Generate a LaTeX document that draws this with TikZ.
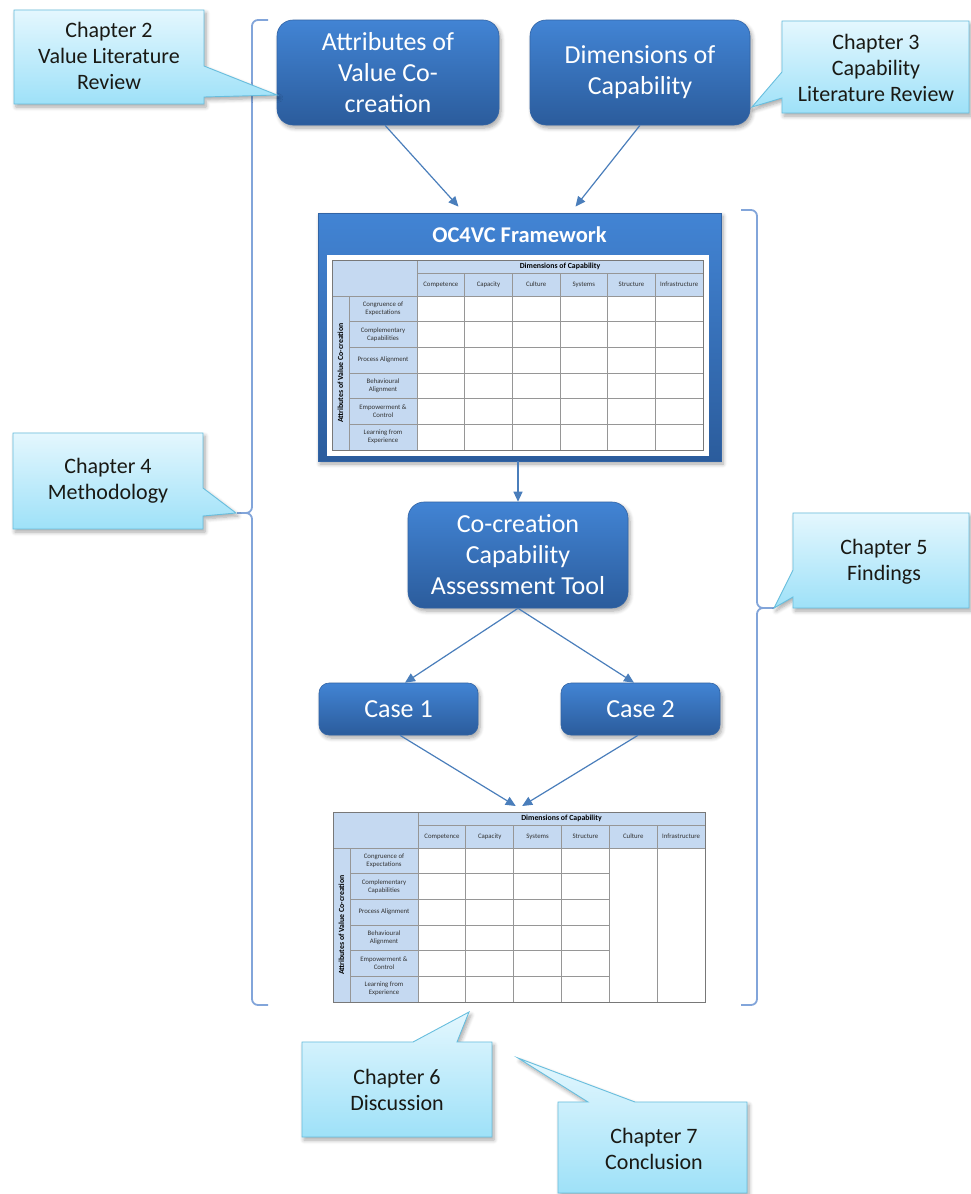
\documentclass[tikz,border=0pt]{standalone}
\usepackage{fontspec}
\setmainfont{Carlito}
\usetikzlibrary{arrows.meta,shadows.blur}

\definecolor{bxtop}{RGB}{66,132,212}
\definecolor{bxbot}{RGB}{43,92,156}
\definecolor{bxline}{RGB}{50,100,165}
\definecolor{cotop}{RGB}{228,247,254}
\definecolor{cobot}{RGB}{158,225,248}
\definecolor{coline}{RGB}{104,190,222}
\definecolor{cotext}{RGB}{25,25,20}
\definecolor{flowblue}{RGB}{74,126,187}
\definecolor{brk}{RGB}{130,165,218}
\definecolor{hdrfill}{RGB}{197,217,241}
\definecolor{gridgray}{RGB}{150,150,150}
\definecolor{tabtext}{RGB}{50,50,50}

\tikzset{
  softshadow/.style={blur shadow={shadow xshift=2pt, shadow yshift=-3pt,
      shadow opacity=35, shadow blur steps=6, shadow blur radius=4pt}},
  bluebox/.style={rectangle, rounded corners=16pt, top color=bxtop, bottom color=bxbot,
      draw=bxline, line width=0.6pt, text=white, align=center, inner sep=0pt,
      font=\fontsize{26}{31}\selectfont, softshadow},
  casebox/.style={bluebox, rounded corners=10pt},
  fwbox/.style={rectangle, top color=bxtop, bottom color=bxbot, draw=bxline,
      line width=0.8pt, inner sep=0pt, softshadow},
  calloutshape/.style={top color=cotop, bottom color=cobot, draw=coline,
      line width=0.9pt, softshadow},
  calltext/.style={text=cotext, align=center, inner sep=0pt,
      font=\fontsize{22}{26}\selectfont},
  flow/.style={draw=flowblue, line width=1.2pt, -{Triangle[length=10pt,width=9pt]}},
  bracket/.style={draw=brk, line width=1.8pt, rounded corners=6pt},
  gridline/.style={draw=gridgray, line width=0.7pt},
  gridframe/.style={draw=gridgray!80!black, line width=0.8pt},
  tabcell/.style={text=tabtext, align=center, inner sep=0pt,
      font=\fontsize{6.8}{8}\selectfont},
  tabhead/.style={text=black, align=center, inner sep=0pt,
      font=\bfseries\fontsize{7.8}{8.5}\selectfont},
}

% capability grid: #1 name prefix, #2 total width, #3 columns that carry row lines,
% #4 column headings
\newcommand\cvgrid[4]{%
  \pgfmathsetmacro\gw{#2}%
  \pgfmathsetmacro\cw{(#2-85)/6}%
  \pgfmathsetmacro\rh{154/6}%
  \fill[hdrfill] (0,0) rectangle (\gw,36);
  \fill[hdrfill] (0,36) rectangle (85,190);
  \fill[white] (85,36) rectangle (\gw,190);
  \draw[gridline] (85,13.5) -- (\gw,13.5);
  \draw[gridline] (0,36) -- (\gw,36);
  \draw[gridline] (17,36) -- (17,190);
  \draw[gridline] (85,0) -- (85,190);
  \foreach \k in {1,...,5} \draw[gridline] ({85+\k*\cw},13.5) -- ({85+\k*\cw},190);
  \foreach \j in {1,...,5} \draw[gridline] (17,{36+\j*\rh}) -- ({85+#3*\cw},{36+\j*\rh});
  \draw[gridframe] (0,0) rectangle (\gw,190);
  \node[tabhead] (#1dim) at ({(85+\gw)/2},6.75) {Dimensions of Capability};
  \foreach \t [count=\k] in {#4}
    \node[tabcell] (#1c\k) at ({85+(\k-0.5)*\cw},24.5) {\t};
  \foreach \t [count=\j] in {{Congruence of\\Expectations},{Complementary\\Capabilities},
      {Process Alignment},{Behavioural\\Alignment},{Empowerment \&\\Control},
      {Learning from\\Experience}}
    \node[tabcell] (#1r\j) at (51,{36+(\j-0.5)*\rh}) {\t};
  \node[tabhead, rotate=90] (#1attr) at (8.5,113) {Attributes of Value Co-creation};
}

\begin{document}
\begin{tikzpicture}[x=1pt,y=-1pt]
\useasboundingbox (0,0) rectangle (970,1194);

% brackets grouping the chapters
\draw[bracket] (268,20) -- (252,20) -- (252,513) -- (237,513);
\draw[bracket] (237,513) -- (252,513) -- (252,1005) -- (268,1005);
\draw[bracket] (741,210) -- (757,210) -- (757,608) -- (774,608);
\draw[bracket] (774,608) -- (757,608) -- (757,1005) -- (741,1005);

% top inputs
\node[bluebox, minimum width=222pt, minimum height=105pt] (attr) at (388,72.5)
  {Attributes of\\Value Co-\\creation};
\node[bluebox, minimum width=220pt, minimum height=105pt] (dim) at (640,72.5)
  {Dimensions of\\Capability};

% framework panel
\node[fwbox, minimum width=403pt, minimum height=248pt] (fw) at (519.5,337) {};
\node[text=white, inner sep=0pt, font=\bfseries\fontsize{22.5}{26}\selectfont]
  (fwtitle) at (519.5,235) {OC4VC Framework};
\fill[white] (327,255) rectangle (709,456);
\begin{scope}[shift={(332,260)}]
  \cvgrid{ta}{371}{6}{Competence,Capacity,Culture,Systems,Structure,Infrastructure}
\end{scope}

% assessment tool and cases
\node[bluebox, minimum width=220pt, minimum height=106pt] (tool) at (518,555)
  {Co-creation\\Capability\\Assessment Tool};
\node[casebox, minimum width=159pt, minimum height=52pt] (case1) at (398.5,709) {Case 1};
\node[casebox, minimum width=159pt, minimum height=52pt] (case2) at (640.5,709) {Case 2};

% resulting grid
\node[inner sep=0pt, minimum width=372pt, minimum height=190pt, anchor=north west]
  (tab2) at (333,812) {};
\begin{scope}[shift={(333,812)}]
  \cvgrid{tb}{372}{4}{Competence,Capacity,Systems,Structure,Culture,Infrastructure}
\end{scope}

% flow arrows
\draw[flow] ([xshift=-3pt]attr.south) -- ([xshift=-61pt,yshift=6pt]fw.north);
\draw[flow] (dim.south) -- ([xshift=56pt,yshift=6pt]fw.north);
\draw[flow] ([xshift=-1.5pt]fw.south) -- (tool.north);
\draw[flow] (tool.south) -- ([xshift=6.5pt]case1.north);
\draw[flow] (tool.south) -- ([xshift=-6.5pt]case2.north);
\draw[flow] ([xshift=1.5pt]case1.south) -- ([xshift=-3.5pt,yshift=6pt]tab2.north);
\draw[flow] ([xshift=-2.5pt]case2.south) -- ([xshift=3pt,yshift=6pt]tab2.north);

% chapter callouts
\path[calloutshape] (14,10) -- (204,10) -- (204,66) -- (277,95) -- (204,97)
  -- (204,104) -- (14,104) -- cycle;
\node[calltext] (ch2) at (109,56) {Chapter 2\\Value Literature\\Review};

\path[calloutshape] (782,21) -- (969,21) -- (969,113) -- (782,113) -- (782,98)
  -- (752,107) -- (782,72) -- cycle;
\node[calltext] (ch3) at (876,68) {Chapter 3\\Capability\\Literature Review};

\path[calloutshape] (13,433) -- (203,433) -- (203,488) -- (236,513) -- (203,516)
  -- (203,529) -- (13,529) -- cycle;
\node[calltext] (ch4) at (108,481) {Chapter 4\\Methodology};

\path[calloutshape] (793,513) -- (969,513) -- (969,608) -- (793,608) -- (793,597)
  -- (774,608) -- (793,570) -- cycle;
\node[calltext] (ch5) at (884,562) {Chapter 5\\Findings};

\path[calloutshape] (302,1042) -- (413,1042) -- (469,1012) -- (457,1042)
  -- (492,1042) -- (492,1137) -- (302,1137) -- cycle;
\node[calltext] (ch6) at (397,1090) {Chapter 6\\Discussion};

\path[calloutshape] (558,1102) -- (588,1102) -- (518,1058) -- (635,1102)
  -- (747,1102) -- (747,1193) -- (558,1193) -- cycle;
\node[calltext] (ch7) at (654,1149) {Chapter 7\\Conclusion};

\end{tikzpicture}
\end{document}
